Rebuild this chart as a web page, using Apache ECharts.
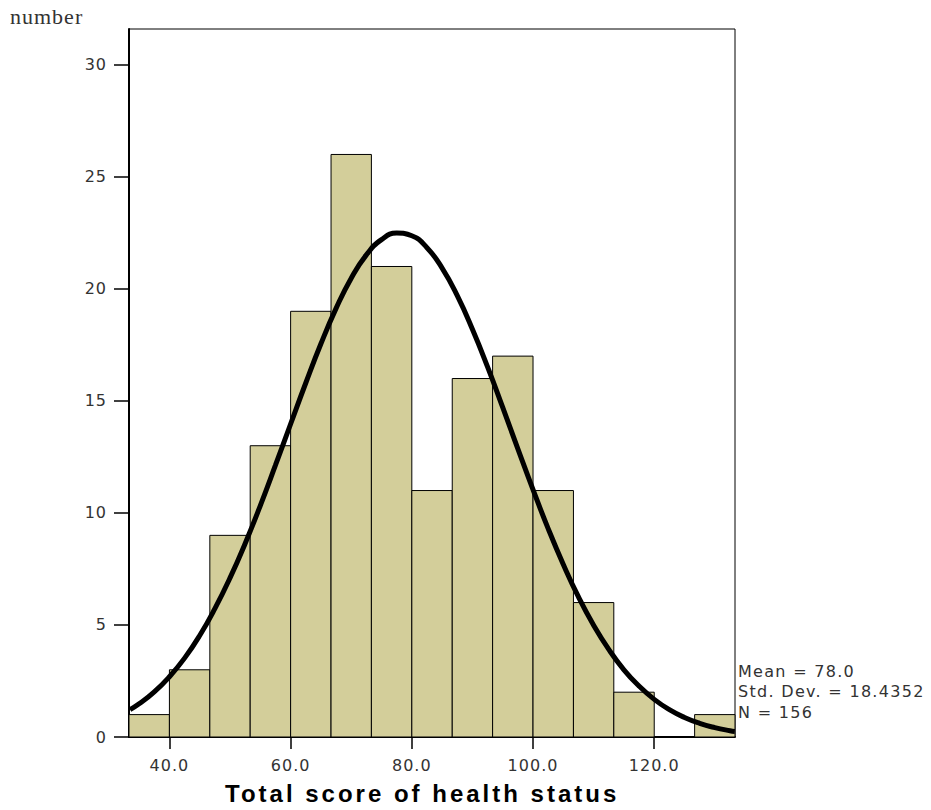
<!DOCTYPE html>
<html>
<head>
<meta charset="utf-8">
<script src="https://cdn.jsdelivr.net/npm/echarts@6/dist/echarts.min.js"></script>
<style>
  html, body { margin: 0; padding: 0; background: #fff; }
  #chart { width: 931px; height: 810px; }
</style>
</head>
<body>
<div id="chart"></div>
<script>
// Histogram bins (score ranges) and frequencies
const binStarts = [33.33, 40, 46.67, 53.33, 60, 66.67, 73.33, 80, 86.67, 93.33, 100, 106.67, 113.33, 120, 126.67];
const binEnds   = [40, 46.67, 53.33, 60, 66.67, 73.33, 80, 86.67, 93.33, 100, 106.67, 113.33, 120, 126.67, 133.33];
const counts    = [1, 3, 9, 13, 19, 26, 21, 11, 16, 17, 11, 6, 2, 0, 1];

// Fitted normal curve, sampled along the score axis
const curveX = [33.5, 35, 37.5, 40, 42.5, 45, 47.5, 50, 52.5, 55, 57.5, 60, 62.5, 65, 67.5, 70, 72.5, 75, 77.5,
                80, 82.5, 85, 87.5, 90, 92.5, 95, 97.5, 100, 102.5, 105, 107.5, 110, 112.5, 115, 117.5, 120,
                122.5, 125, 127.5, 130, 132.5, 133.3];
const curveY = [1.22, 1.48, 2.01, 2.69, 3.52, 4.53, 5.73, 7.10, 8.64, 10.33, 12.13, 13.97, 15.80, 17.55, 19.13, 20.48, 21.52, 22.20, 22.49,
                22.37, 21.84, 20.93, 19.70, 18.20, 16.52, 14.71, 12.86, 11.04, 9.30, 7.70, 6.25, 4.99, 3.91, 3.00, 2.27, 1.68,
                1.22, 0.87, 0.61, 0.42, 0.28, 0.25];

// Axis ticks
const xTicks = [40, 60, 80, 100, 120];
const yTicks = [0, 5, 10, 15, 20, 25, 30];

const yTitle = 'number';
const xTitle = 'Total score of health status';
const statLines = ['Mean = 78.0', 'Std. Dev. = 18.4352', 'N = 156'];

const chart = echarts.init(document.getElementById('chart'), null, { renderer: 'svg' });

const histData = counts.map((c, i) => [binStarts[i], binEnds[i], c]);
const lineData = curveX.map((x, i) => [x, curveY[i]]);

chart.setOption({
  animation: false,
  grid: {
    left: 129, right: 196, top: 29, bottom: 73,
    show: true, borderColor: '#000', borderWidth: 1, backgroundColor: 'transparent'
  },
  xAxis: {
    type: 'value',
    min: 33.33, max: 133.33,
    splitLine: { show: false },
    axisLine: { show: true, onZero: false, lineStyle: { color: '#000', width: 2 } },
    axisTick: { show: true, customValues: xTicks, length: 12, lineStyle: { color: '#000', width: 1.5 } },
    axisLabel: {
      customValues: xTicks, margin: 20,
      formatter: v => v.toFixed(1),
      color: '#333', fontFamily: 'DejaVu Sans', fontSize: 16
    }
  },
  yAxis: {
    type: 'value',
    min: 0, max: 31.6,
    splitLine: { show: false },
    axisLine: { show: true, lineStyle: { color: '#000', width: 2 } },
    axisTick: { show: true, customValues: yTicks, length: 15, lineStyle: { color: '#000', width: 1.5 } },
    axisLabel: {
      customValues: yTicks, margin: 22,
      color: '#333', fontFamily: 'DejaVu Sans', fontSize: 16
    }
  },
  series: [
    {
      type: 'custom',
      data: histData,
      encode: { x: [0, 1], y: 2 },
      renderItem: function (params, api) {
        const p0 = api.coord([api.value(0), api.value(2)]);
        const p1 = api.coord([api.value(1), 0]);
        if (api.value(2) <= 0) return null;
        return {
          type: 'rect',
          shape: { x: p0[0], y: p0[1], width: p1[0] - p0[0], height: p1[1] - p0[1] },
          style: { fill: '#D3CE9A', stroke: '#000', lineWidth: 1 }
        };
      },
      z: 2
    },
    {
      type: 'line',
      data: lineData,
      smooth: true,
      showSymbol: false,
      lineStyle: { color: '#000', width: 5 },
      z: 3
    }
  ],
  graphic: [
    {
      type: 'text', left: 10, top: 5,
      style: { text: yTitle, font: '22px "Liberation Serif", "DejaVu Serif", serif', fill: '#333' }
    },
    {
      type: 'text', left: 225, top: 781,
      style: { text: xTitle, font: 'bold 24px "Liberation Sans", Arial, sans-serif', fill: '#000' }
    },
    {
      type: 'text', left: 738, top: 661,
      style: { text: statLines.join('\n'), font: '16px "DejaVu Sans", sans-serif', lineHeight: 20.5, fill: '#333' }
    }
  ]
});

// Widen the tracking of the text, SPSS-style
document.querySelectorAll('#chart text').forEach(t => {
  const s = t.textContent;
  let ls = '1px';
  if (s === xTitle) ls = '3px';
  else if (statLines.indexOf(s) >= 0) ls = '1.3px';
  t.style.letterSpacing = ls;
});
</script>
</body>
</html>
